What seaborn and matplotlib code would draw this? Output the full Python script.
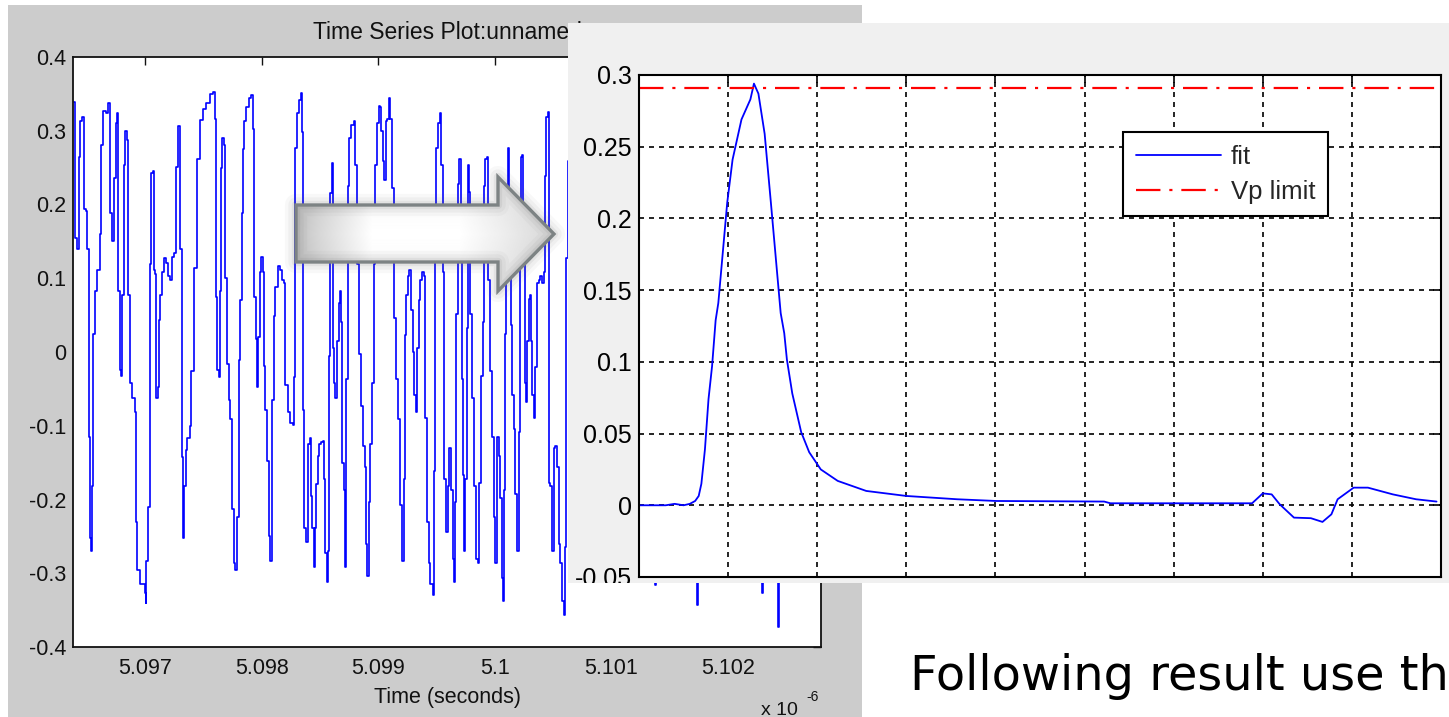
import numpy as np
import pandas as pd
import matplotlib
matplotlib.use("Agg")
import matplotlib.pyplot as plt
from matplotlib.patches import Rectangle, Polygon
from matplotlib.transforms import Bbox, TransformedBbox
import seaborn as sns

# ---------------- data ----------------
# left panel: time series (time in ns, value)
left_time_ns = [
    5096.385, 5096.394, 5096.414, 5096.431, 5096.442, 5096.459, 5096.471, 5096.488, 5096.502, 5096.514,
    5096.522, 5096.531, 5096.545, 5096.551, 5096.565, 5096.585, 5096.608, 5096.622, 5096.637, 5096.660,
    5096.680, 5096.694, 5096.714, 5096.728, 5096.745, 5096.757, 5096.768, 5096.780, 5096.794, 5096.803,
    5096.814, 5096.826, 5096.843, 5096.854, 5096.866, 5096.886, 5096.909, 5096.917, 5096.931, 5096.951,
    5096.994, 5097.009, 5097.010, 5097.023, 5097.037, 5097.052, 5097.066, 5097.072, 5097.083, 5097.089,
    5097.095, 5097.109, 5097.117, 5097.129, 5097.143, 5097.160, 5097.180, 5097.195, 5097.215, 5097.232,
    5097.243, 5097.261, 5097.266, 5097.281, 5097.289, 5097.301, 5097.312, 5097.323, 5097.332, 5097.346,
    5097.358, 5097.381, 5097.395, 5097.415, 5097.444, 5097.467, 5097.495, 5097.524, 5097.558, 5097.581,
    5097.595, 5097.604, 5097.615, 5097.630, 5097.638, 5097.647, 5097.658, 5097.673, 5097.681, 5097.701,
    5097.715, 5097.730, 5097.744, 5097.758, 5097.773,
    5097.787, 5097.802, 5097.816, 5097.830, 5097.839, 5097.850, 5097.867, 5097.887, 5097.907, 5097.925,
    5097.936, 5097.947, 5097.959, 5097.967, 5097.982, 5097.996, 5098.008, 5098.016, 5098.030, 5098.045,
    5098.059, 5098.073, 5098.088, 5098.102, 5098.116, 5098.136, 5098.153, 5098.173, 5098.188, 5098.202,
    5098.222, 5098.239, 5098.265, 5098.274, 5098.282, 5098.302, 5098.322, 5098.334, 5098.345, 5098.354,
    5098.365, 5098.380, 5098.394, 5098.411, 5098.422, 5098.431, 5098.445, 5098.454, 5098.468, 5098.480,
    5098.494, 5098.508, 5098.523, 5098.531, 5098.545, 5098.560, 5098.568, 5098.577, 5098.588, 5098.600,
    5098.608, 5098.623, 5098.631, 5098.646, 5098.660, 5098.674, 5098.683, 5098.691, 5098.703, 5098.717,
    5098.726, 5098.737, 5098.751, 5098.769, 5098.789, 5098.803, 5098.817, 5098.837, 5098.852, 5098.869,
    5098.883, 5098.897, 5098.906, 5098.917, 5098.932, 5098.946, 5098.960, 5098.975, 5098.989, 5099.003,
    5099.018, 5099.026, 5099.040, 5099.052, 5099.063, 5099.075, 5099.089, 5099.103, 5099.115, 5099.132,
    5099.152, 5099.169,
    5099.189, 5099.203, 5099.218, 5099.226, 5099.238, 5099.252, 5099.266, 5099.280, 5099.295, 5099.309,
    5099.323, 5099.332, 5099.346, 5099.361, 5099.375, 5099.389, 5099.404, 5099.418, 5099.432, 5099.446,
    5099.466, 5099.475, 5099.484, 5099.495, 5099.512, 5099.532, 5099.541, 5099.552, 5099.567, 5099.581,
    5099.595, 5099.610, 5099.624, 5099.638, 5099.652, 5099.661, 5099.670, 5099.681, 5099.695, 5099.707,
    5099.718, 5099.730, 5099.738, 5099.747, 5099.758, 5099.767, 5099.775, 5099.787, 5099.804, 5099.824,
    5099.838, 5099.853, 5099.867, 5099.884, 5099.899, 5099.910, 5099.919, 5099.930, 5099.941, 5099.956,
    5099.976, 5099.990, 5100.004, 5100.019, 5100.033, 5100.047, 5100.062, 5100.070, 5100.082, 5100.090,
    5100.099, 5100.110, 5100.122, 5100.136, 5100.147, 5100.162, 5100.176, 5100.190, 5100.205, 5100.216,
    5100.228, 5100.233, 5100.245, 5100.256, 5100.268, 5100.279, 5100.291, 5100.302, 5100.311, 5100.322,
    5100.333, 5100.348, 5100.362, 5100.376, 5100.391, 5100.405, 5100.419, 5100.428, 5100.439, 5100.454,
    5100.462, 5100.476, 5100.491, 5100.505, 5100.519, 5100.534, 5100.548, 5100.562, 5100.577, 5100.591,
    5100.605, 5100.614, 5100.625, 5100.634,
    5100.734, 5100.906, 5101.077, 5101.370, 5101.378, 5101.386, 5101.550, 5101.725, 5101.732, 5101.740,
    5101.748, 5101.936, 5102.150, 5102.288, 5102.296, 5102.305, 5102.330, 5102.424, 5102.434, 5102.442,
    5102.580, 5102.803,
]
left_value = [
    0.339, 0.155, 0.140, 0.264, 0.313, 0.319, 0.194, 0.191, 0.140, -0.115,
    -0.252, -0.270, -0.182, 0.025, 0.083, 0.111, 0.160, 0.280, 0.327, 0.324,
    0.337, 0.189, 0.150, 0.236, 0.311, 0.324, 0.083, -0.024, -0.032, 0.077,
    0.254, 0.300, 0.288, 0.077, -0.042, -0.063, -0.081, -0.231, -0.296, -0.314,
    -0.327, -0.340, -0.283, -0.210, 0.119, 0.243, 0.246, 0.111, 0.106, -0.037,
    -0.063, -0.047, 0.044, 0.077, 0.108, 0.127, 0.121, 0.103, 0.098, 0.129,
    0.134, 0.140, 0.251, 0.306, 0.306, 0.140, -0.143, -0.252, -0.182, -0.133,
    -0.117, -0.101, -0.026, 0.114, 0.262, 0.314, 0.329, 0.337, 0.350, 0.353,
    0.316, 0.075, -0.024, -0.034, 0.083, 0.249, 0.290, 0.280, 0.101, -0.016,
    -0.065, -0.091, -0.213, -0.286, -0.296,
    -0.224, -0.011, 0.070, 0.189, 0.275, 0.313, 0.332, 0.345, 0.348, 0.303,
    0.075, 0.018, -0.047, 0.020, 0.108, 0.129, 0.108, -0.019, -0.078, -0.148,
    -0.249, -0.283, -0.065, 0.049, 0.088, 0.116, 0.111, 0.098, 0.093, -0.045,
    -0.081, -0.096, -0.099, -0.034, 0.277, 0.324, 0.342, 0.351, 0.298, -0.078,
    -0.239, -0.257, -0.125, -0.117, -0.195, -0.239, -0.291, -0.239, -0.179, -0.141,
    -0.125, -0.122, -0.120, -0.172, -0.273, -0.312, -0.270, -0.006, 0.215, 0.256,
    0.005, -0.042, -0.063, 0.015, 0.067, 0.083, 0.041, -0.151, -0.187, -0.291,
    -0.037, 0.225, 0.290, 0.308, 0.313, 0.254, 0.119, -0.003, -0.073, -0.128,
    -0.156, -0.260, -0.304, -0.203, -0.125, -0.042, 0.119, 0.254, 0.311, 0.334,
    0.332, 0.300, 0.259, 0.233, 0.313, 0.316, 0.345, 0.316, 0.223, 0.046,
    -0.037, -0.091,
    -0.208, -0.283, -0.172, 0.023, 0.077, 0.103, 0.111, 0.057, 0.000, -0.058,
    -0.081, 0.005, 0.070, 0.098, 0.108, 0.103, -0.089, -0.231, -0.286, -0.314,
    -0.330, -0.161, 0.199, 0.277, 0.311, 0.324, 0.254, 0.108, -0.172, -0.244,
    -0.182, -0.130, -0.187, -0.280, -0.312, -0.203, 0.052, 0.228, 0.262, 0.171,
    -0.037, -0.167, -0.270, -0.172, 0.033, 0.254, 0.217, 0.052, -0.063, -0.182,
    -0.280, -0.286, -0.177, -0.032, 0.041, 0.225, 0.262, 0.264, 0.098, -0.026,
    -0.115, -0.224, -0.286, -0.115, -0.141, -0.198, -0.307, -0.338, -0.187, 0.025,
    0.207, 0.277, 0.176, 0.036, -0.058, -0.104, -0.192, -0.270, -0.109, 0.134,
    0.264, 0.267, 0.119, -0.042, -0.068, 0.015, 0.072, 0.077, 0.015, -0.058,
    -0.089, -0.021, 0.093, 0.098, 0.103, 0.093, 0.108, 0.238, 0.319, 0.326,
    -0.177, -0.182, -0.270, -0.130, -0.127, -0.156, -0.260, -0.286, -0.338, -0.356,
    -0.265, 0.127, 0.259, 0.262,
    0.200, -0.200, 0.250, 0.100, -0.316, 0.100, 0.200, -0.100, -0.330, -0.343,
    0.000, 0.250, -0.250, -0.310, -0.327, -0.300, 0.100, -0.300, -0.373, 0.000,
    0.200, 0.000,
]
left_xticks = [5.097, 5.098, 5.099, 5.100, 5.101, 5.102]
left_xticklabels = ["5.097", "5.098", "5.099", "5.1", "5.101", "5.102"]
left_yticks = [-0.4, -0.3, -0.2, -0.1, 0.0, 0.1, 0.2, 0.3, 0.4]
left_yticklabels = ["-0.4", "-0.3", "-0.2", "-0.1", "0", "0.1", "0.2", "0.3", "0.4"]

# right panel: fitted pulse (x in grid units) and Vp limit
fit_x = [0.00, 0.30, 0.40, 0.50, 0.57, 0.63, 0.67, 0.70, 0.74, 0.78,
         0.82, 0.86, 0.89, 0.94, 0.99, 1.05, 1.15, 1.25, 1.29, 1.34,
         1.41, 1.48, 1.53, 1.59, 1.63, 1.66, 1.72, 1.82, 1.91, 2.04,
         2.23, 2.55, 3.00, 3.57, 4.01, 5.22, 5.29, 6.88, 7.00, 7.10,
         7.19, 7.35, 7.54, 7.67, 7.77, 7.84, 8.02, 8.18, 8.46, 8.72, 8.95]
fit_y = [0.000, 0.000, 0.001, 0.000, 0.001, 0.003, 0.0065, 0.015, 0.039, 0.074,
         0.097, 0.129, 0.141, 0.176, 0.211, 0.241, 0.269, 0.283, 0.294, 0.287,
         0.259, 0.211, 0.176, 0.134, 0.120, 0.1015, 0.078, 0.051, 0.037, 0.025,
         0.017, 0.010, 0.0065, 0.0042, 0.003, 0.0026, 0.0014, 0.0014, 0.0083, 0.0076,
         0.0007, -0.0086, -0.009, -0.0116, -0.0063, 0.0042, 0.0123, 0.0123, 0.0076, 0.0042, 0.0026]
vp_limit = 0.291
right_xticks = [1, 2, 3, 4, 5, 6, 7, 8]
right_yticks = [-0.05, 0.0, 0.05, 0.10, 0.15, 0.20, 0.25, 0.30]
right_yticklabels = ["-0.05", "0", "0.05", "0.1", "0.15", "0.2", "0.25", "0.3"]
series_labels = ["fit", "Vp limit"]

# ---------------- style ----------------
sns.set_theme(style="white")
plt.rcParams["font.family"] = ["Liberation Sans", "DejaVu Sans"]
plt.rcParams["axes.unicode_minus"] = False

W, H = 1449, 717
fig = plt.figure(figsize=(W / 100, H / 100), dpi=100)
fig.patch.set_facecolor("white")


def box(x0, y0, x1, y1):
    return [x0 / W, 1 - y1 / H, (x1 - x0) / W, (y1 - y0) / H]


# left gray window
fig.add_artist(Rectangle((8 / W, 0), 854 / W, 712 / H, transform=fig.transFigure,
                         facecolor="#cccccc", edgecolor="none", zorder=0.1))

# ---------------- left axes ----------------
ax_l = fig.add_axes(box(73, 57, 821, 647))
ax_l.set_zorder(1)
ax_l.set_facecolor("white")
df_l = pd.DataFrame({"t": np.array(left_time_ns) / 1000.0, "v": left_value})
sns.lineplot(data=df_l, x="t", y="v", ax=ax_l, color="#0000ff", linewidth=1.2,
             estimator=None, sort=False, drawstyle="steps-post")
ax_l.set_xlim(5.09638, 5.10280)
ax_l.set_ylim(-0.4, 0.4)
ax_l.set_xticks(left_xticks)
ax_l.set_xticklabels(left_xticklabels)
ax_l.set_yticks(left_yticks)
ax_l.set_yticklabels(left_yticklabels)
ax_l.set_ylabel("")
ax_l.set_xlabel("Time (seconds)", fontsize=15.5, labelpad=6, color="#111111")
ax_l.set_title("Time Series Plot:unnamed", fontsize=16.5, pad=13, color="#111111")
ax_l.tick_params(direction="in", length=6, width=1, top=True, right=True,
                 labelsize=15.5, colors="#111111")
ax_l.tick_params(axis="x", pad=8)
ax_l.tick_params(axis="y", pad=5)
for s in ax_l.spines.values():
    s.set_color("#111111")
    s.set_linewidth(1.3)

# ---------------- arrow overlay ----------------
ax_o = fig.add_axes([0, 0, 1, 1])
ax_o.set_zorder(2)
ax_o.patch.set_alpha(0)
ax_o.axis("off")
pts = [(296, 205), (498, 205), (498, 177), (554, 234), (498, 291), (498, 262), (296, 262)]
for lw_, a_ in [(16, 0.04), (11, 0.06), (6, 0.09)]:
    ax_o.add_patch(Polygon(pts, closed=True, fill=False, edgecolor="#606060",
                           linewidth=lw_, alpha=a_, joinstyle="round"))
clip_poly = Polygon(pts, closed=True, facecolor="none", edgecolor="none")
ax_o.add_patch(clip_poly)
xs = np.arange(296, 556)
prof = np.interp(xs, [296, 318, 372, 460, 505, 554], [0.76, 0.84, 1.0, 1.0, 0.93, 0.84])
ys = np.linspace(0, 1, 115)
vert = 1 - 0.04 * np.abs(ys - 0.5) * 2
img = np.clip(np.outer(vert, prof), 0, 1)
im = ax_o.imshow(img, extent=(296, 556, 292, 176), cmap="gray", vmin=0, vmax=1,
                 aspect="auto", interpolation="bilinear")
im.set_clip_path(clip_poly)
ax_o.add_patch(Polygon(pts, closed=True, fill=False, edgecolor="#7d8384",
                       linewidth=2.4, joinstyle="miter"))
ax_o.set_xlim(0, W)
ax_o.set_ylim(H, 0)

# ---------------- right panel ----------------
fig.add_artist(Rectangle((568 / W, 1 - 583 / H), 881 / W, 560 / H, transform=fig.transFigure,
                         facecolor="#f0f0f0", edgecolor="none", zorder=3))
ax_r = fig.add_axes(box(639, 75, 1441, 577))
ax_r.set_zorder(4)
ax_r.set_facecolor("white")
sns.lineplot(x=fit_x, y=fit_y, ax=ax_r, color="#0000ff", linewidth=1.3,
             estimator=None, sort=False, label=series_labels[0])
ax_r.axhline(vp_limit, color="#ff0000", linewidth=1.6, linestyle=(0, (11, 4, 1.4, 4)),
             label=series_labels[1])
ax_r.set_xlim(0, 9)
ax_r.set_ylim(-0.05, 0.3)
ax_r.set_xticks(right_xticks)
ax_r.set_xticklabels([])
ax_r.set_yticks(right_yticks)
ax_r.set_yticklabels(right_yticklabels)
ax_r.grid(True, color="black", linestyle=(0, (3, 3)), linewidth=1.2)
ax_r.tick_params(direction="in", length=6, width=1.2, top=True, right=True,
                 labelsize=18, pad=5, colors="black")
for s in ax_r.spines.values():
    s.set_color("black")
    s.set_linewidth(1.5)
clip_bb = TransformedBbox(Bbox.from_extents(568 / W, 1 - 583 / H, 1, 1 - 23 / H), fig.transFigure)
for lab in ax_r.get_yticklabels():
    lab.set_clip_on(True)
    lab.set_clip_box(clip_bb)
leg = ax_r.legend(loc="upper left", bbox_to_anchor=(1123 / W, 1 - 132 / H),
                  bbox_transform=fig.transFigure, fontsize=18.5, handlelength=3.3,
                  handletextpad=0.4, labelspacing=0.42, borderpad=0.5, borderaxespad=0,
                  frameon=True, fancybox=False, edgecolor="black", framealpha=1)
leg.get_frame().set_linewidth(1.5)

# ---------------- free texts ----------------
fig.text(761 / W, 1 - 715 / H, "x 10", fontsize=14, va="baseline", ha="left",
         color="#111111", zorder=5)
fig.text(806 / W, 1 - 701 / H, "-6", fontsize=10, va="baseline", ha="left",
         color="#111111", zorder=5)
fig.text(910 / W, 1 - 690 / H, "Following result use th", fontsize=34.5,
         family=["DejaVu Sans"], va="baseline", ha="left", color="black", zorder=5)

fig.savefig("out.png", dpi=100)
